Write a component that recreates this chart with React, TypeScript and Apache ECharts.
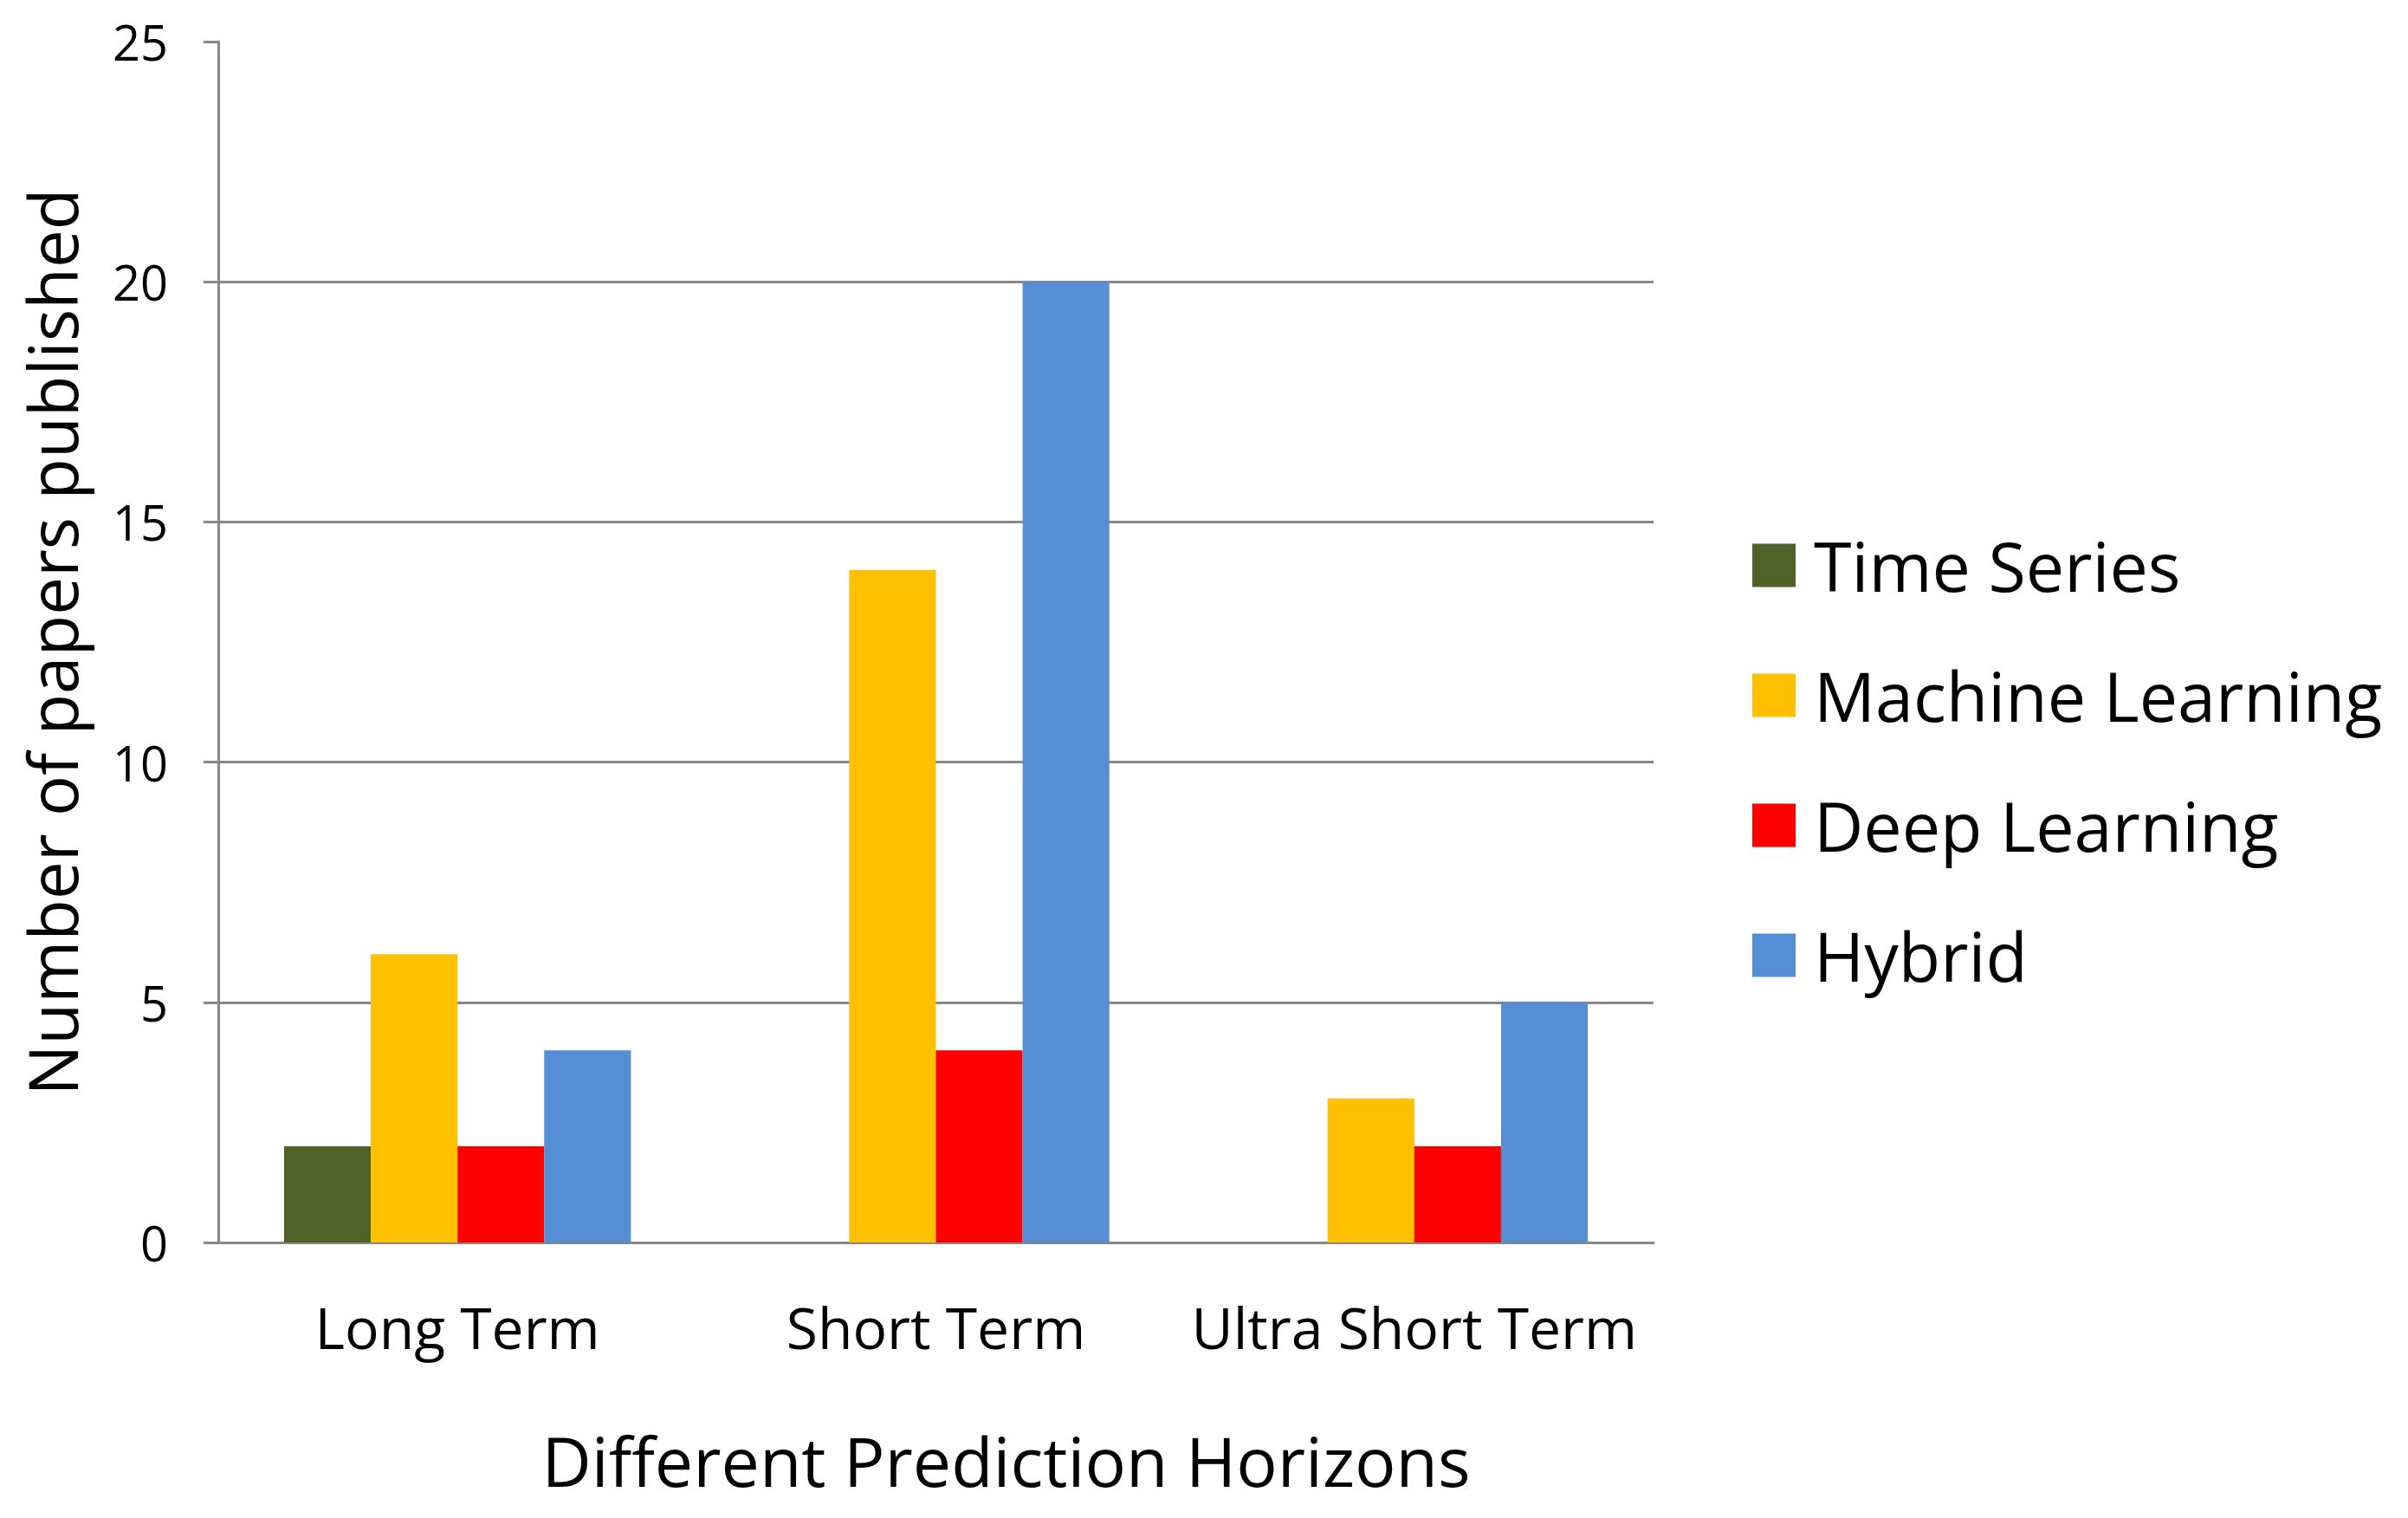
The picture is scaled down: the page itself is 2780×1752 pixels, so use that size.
import React, { useEffect, useRef } from "react";
import * as echarts from "echarts";

const categories = ["Long Term", "Short Term", "Ultra Short Term"];
const seriesNames = ["Time Series", "Machine Learning", "Deep Learning", "Hybrid"];
const timeSeries = [2, 0, 0];
const machineLearning = [6, 14, 3];
const deepLearning = [2, 4, 2];
const hybrid = [4, 20, 5];
const seriesColors = ["#4F6228", "#FFC000", "#FF0000", "#558ED5"];
const yMin = 0;
const yMax = 25;
const yInterval = 5;

const FONT = "'Open Sans', sans-serif";

export default function App() {
  const ref = useRef<HTMLDivElement>(null);
  useEffect(() => {
    document.body.style.margin = "0";
    const chart = echarts.init(ref.current!, null, { renderer: "svg" });
    const values = [timeSeries, machineLearning, deepLearning, hybrid];
    chart.setOption({
      animation: false,
      backgroundColor: "#ffffff",
      textStyle: { fontFamily: FONT, color: "#000" },
      grid: { left: 252, right: 871, top: 48, bottom: 318, containLabel: false },
      legend: {
        orient: "vertical",
        left: 2018,
        top: 608,
        itemWidth: 50,
        itemHeight: 50,
        itemGap: 71,
        icon: "rect",
        textStyle: { fontFamily: FONT, fontSize: 79, color: "#000", padding: [0, 0, 0, 16] },
        data: seriesNames,
      },
      xAxis: {
        type: "category",
        data: categories,
        name: "Different Prediction Horizons",
        nameLocation: "middle",
        nameGap: 212,
        nameTextStyle: { fontFamily: FONT, fontSize: 79, color: "#000", padding: [0, 0, 0, 162] },
        axisLine: { show: true, lineStyle: { color: "#888888", width: 3 } },
        axisTick: { show: false },
        axisLabel: { fontFamily: FONT, fontSize: 66, color: "#000", margin: 64, interval: 0 },
        splitLine: { show: false },
      },
      yAxis: {
        type: "value",
        min: yMin,
        max: yMax,
        interval: yInterval,
        name: "Number of papers published",
        nameLocation: "middle",
        nameGap: 153,
        nameRotate: 90,
        nameTextStyle: { fontFamily: FONT, fontSize: 78, color: "#000" },
        axisLine: { show: true, lineStyle: { color: "#888888", width: 3 } },
        axisTick: { show: true, length: 17, lineStyle: { color: "#888888", width: 3 } },
        axisLabel: { fontFamily: FONT, fontSize: 56, color: "#000", margin: 58 },
        splitLine: { show: true, showMaxLine: false, lineStyle: { color: "#888888", width: 3 } },
      },
      series: seriesNames.map((name, i) => ({
        name,
        type: "bar",
        data: values[i],
        barGap: "0%",
        barCategoryGap: "27.5%",
        itemStyle: { color: seriesColors[i] },
      })),
    });
    return () => chart.dispose();
  }, []);
  return <div ref={ref} style={{ width: 2780, height: 1752, position: "absolute", left: 0, top: 0 }} />;
}
